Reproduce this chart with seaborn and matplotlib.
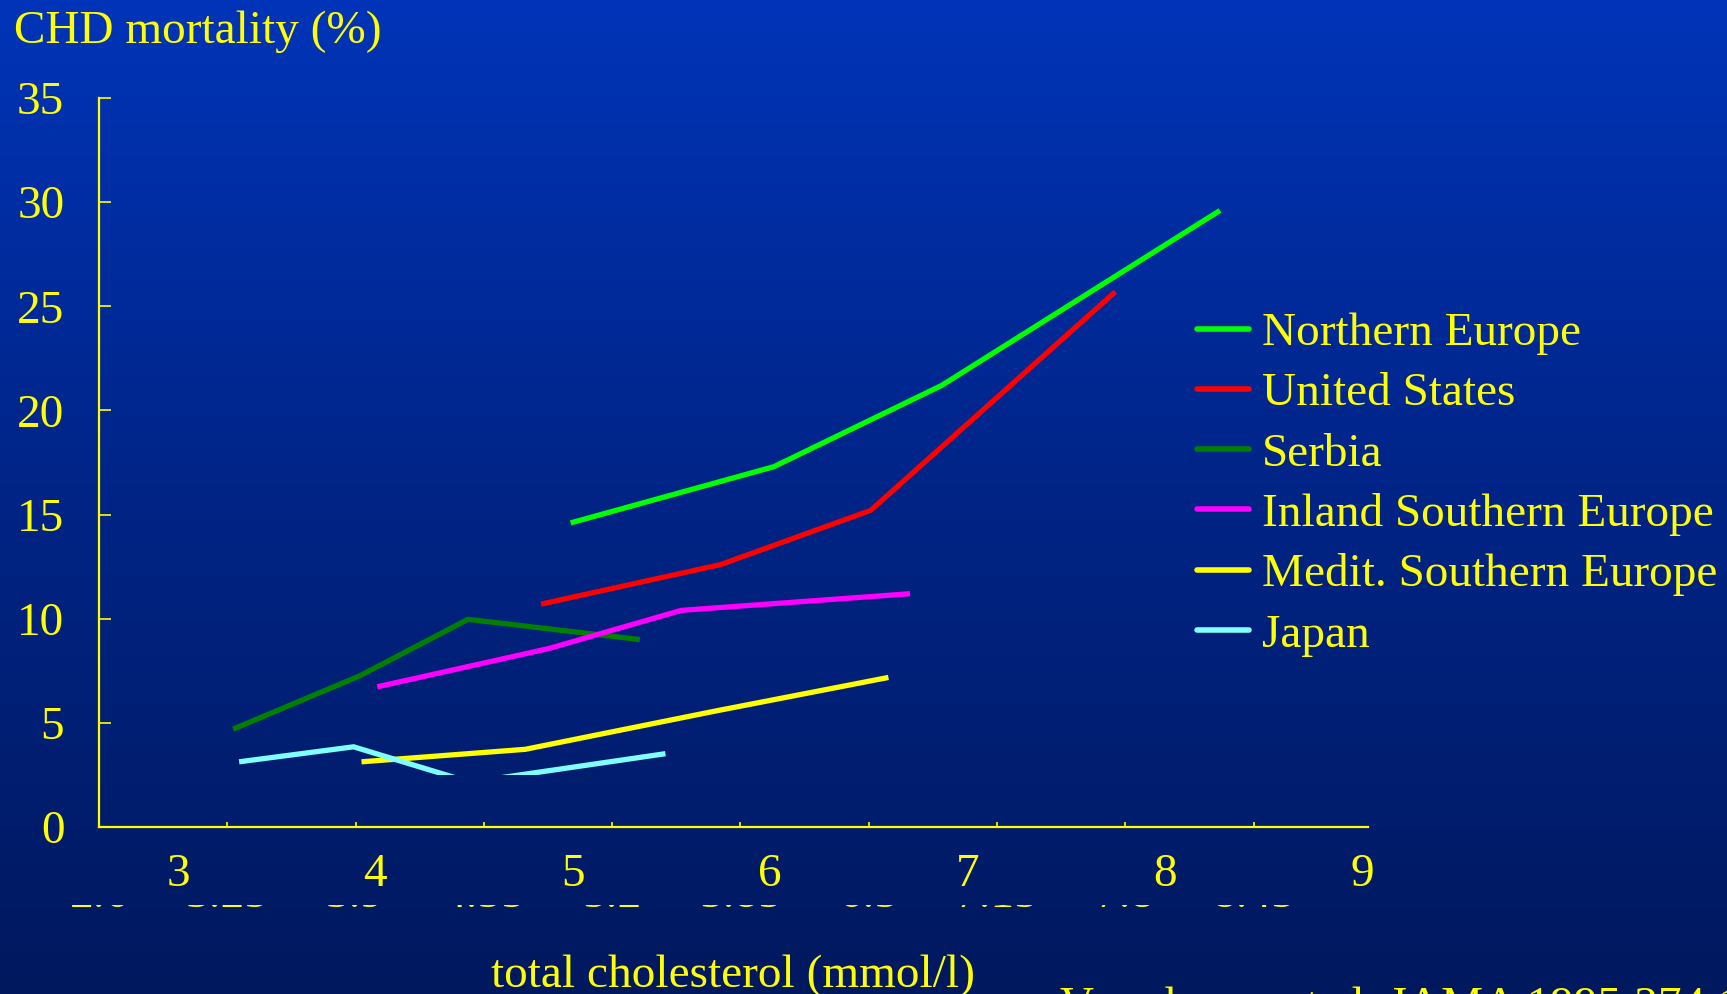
import numpy as np
import pandas as pd
import matplotlib
matplotlib.use("Agg")
import matplotlib.pyplot as plt
import seaborn as sns
from matplotlib.patches import Rectangle
from matplotlib.transforms import Bbox, TransformedBbox
from matplotlib.colors import LinearSegmentedColormap

# ---------------- data ----------------
regions = ["Northern Europe", "United States", "Serbia",
           "Inland Southern Europe", "Medit. Southern Europe", "Japan"]
colors = ["#00FF00", "#FF0000", "#008000", "#FF00FF", "#FFFF00", "#80FFFF"]

ne_chol = [4.99, 6.02, 6.87, 8.28]
ne_mort = [14.6, 17.3, 21.2, 29.6]
us_chol = [4.84, 5.75, 6.51, 7.75]
us_mort = [10.7, 12.6, 15.2, 25.7]
se_chol = [3.28, 3.92, 4.47, 5.34]
se_mort = [4.7, 7.25, 9.97, 9.0]
is_chol = [4.01, 4.88, 5.55, 6.71]
is_mort = [6.73, 8.57, 10.4, 11.2]
ms_chol = [3.93, 4.76, 5.73, 6.60]
ms_mort = [3.13, 3.73, 5.58, 7.18]
jp_chol = [3.31, 3.89, 4.48, 5.47]
jp_mort = [3.13, 3.85, 2.15, 3.52]

axis_ticks = [2.6, 3.25, 3.9, 4.55, 5.2, 5.85, 6.5, 7.15, 7.8, 8.45]
axis_tick_labels = ["2.6", "3.25", "3.9", "4.55", "5.2", "5.85", "6.5", "7.15", "7.8", "8.45"]
overlay_ticks = [3, 4, 5, 6, 7, 8, 9]
overlay_labels = ["3", "4", "5", "6", "7", "8", "9"]
y_ticks = [0, 5, 10, 15, 20, 25, 30, 35]
y_labels = ["0", "5", "10", "15", "20", "25", "30", "35"]

title_text = "CHD mortality (%)"
xlabel_text = "total cholesterol (mmol/l)"
source_text = "Verschuren et al. JAMA 1995;274:131-6"

series = [(ne_chol, ne_mort), (us_chol, us_mort), (se_chol, se_mort),
          (is_chol, is_mort), (ms_chol, ms_mort), (jp_chol, jp_mort)]
rows = []
for name, (xs, ys) in zip(regions, series):
    for i, (xv, yv) in enumerate(zip(xs, ys)):
        rows.append({"region": name, "chol": xv, "mort": yv, "order": i})
df = pd.DataFrame(rows)

# ---------------- style ----------------
sns.set_style("white")
plt.rcParams["font.family"] = ["Liberation Serif", "DejaVu Serif"]
YEL = "#FFFF00"
FS = 34

W, H = 1727, 994
fig = plt.figure(figsize=(W / 100, H / 100), dpi=100)

# gradient background
bg = fig.add_axes([0, 0, 1, 1], zorder=-10)
cmap = LinearSegmentedColormap.from_list("bg", ["#0034B8", "#002486", "#00185E"])
grad = np.linspace(0, 1, 256).reshape(-1, 1)
bg.imshow(grad, aspect="auto", cmap=cmap, extent=[0, 1, 0, 1], origin="upper")
bg.set_axis_off()

ax = fig.add_axes([99 / W, 1 - 827 / H, (1368 - 99) / W, (827 - 98) / H])
ax.set_facecolor("none")

palette = dict(zip(regions, colors))
sns.lineplot(data=df, x="chol", y="mort", hue="region", hue_order=regions,
             palette=palette, sort=False, estimator=None, linewidth=3.8,
             ax=ax, legend=True)

for ln in ax.lines:
    ln.set_solid_capstyle("butt")
    ln.set_solid_joinstyle("miter")

# Japan line is cut off below ~2.5 in the reference
jp_line = ax.lines[regions.index("Japan")]
clip = Rectangle((2.6, 2.5), 7, 40, transform=ax.transData)
jp_line.set_clip_path(clip)

ax.set_xlim(2.6, 9.03)
ax.set_ylim(0, 35)
ax.set_xlabel("")
ax.set_ylabel("")
for s in ["top", "right"]:
    ax.spines[s].set_visible(False)
for s in ["left", "bottom"]:
    ax.spines[s].set_color(YEL)
    ax.spines[s].set_linewidth(1.6)

ax.set_yticks(y_ticks)
ax.set_yticklabels(y_labels)
ax.set_xticks(axis_ticks)
ax.set_xticklabels(axis_tick_labels)
ax.set_xticks(overlay_ticks, minor=True)
ax.set_xticklabels(overlay_labels, minor=True)

ax.tick_params(axis="y", direction="in", length=8.6, width=1.2, color=YEL,
               labelcolor=YEL, labelsize=FS, pad=25, left=True)
ax.tick_params(axis="x", which="major", direction="in", length=3.6, width=1.2,
               color=YEL, labelcolor=YEL, labelsize=FS, pad=34.5, bottom=True)
ax.tick_params(axis="x", which="minor", length=0, labelcolor=YEL,
               labelsize=FS, pad=18.8, bottom=True)

# the original axis labels are mostly hidden; only their bottom strip shows
clipbox = TransformedBbox(Bbox([[0, 0], [1, (H - 905) / H]]), fig.transFigure)
for t in ax.xaxis.get_major_ticks():
    t.label1.set_clip_box(clipbox)
    t.label1.set_clip_on(True)

sns.move_legend(ax, "upper left", bbox_to_anchor=(1197 / W, 1 - 312 / H),
                bbox_transform=fig.transFigure, frameon=False, title=None,
                fontsize=FS, labelcolor=YEL, handlelength=1.1,
                handletextpad=0.28, labelspacing=0.365, borderpad=0,
                borderaxespad=0)
leg = ax.get_legend()
for h in leg.legend_handles:
    h.set_linewidth(4)

fig.text(14 / W, 1 - 43 / H, title_text, color=YEL, fontsize=FS, va="baseline", ha="left")
fig.text(733 / W, 1 - 987 / H, xlabel_text, color=YEL, fontsize=FS, va="baseline", ha="center")
fig.text(1060 / W, 1 - 1019 / H, source_text, color=YEL, fontsize=FS, va="baseline", ha="left")

fig.savefig("out.png", dpi=100)
